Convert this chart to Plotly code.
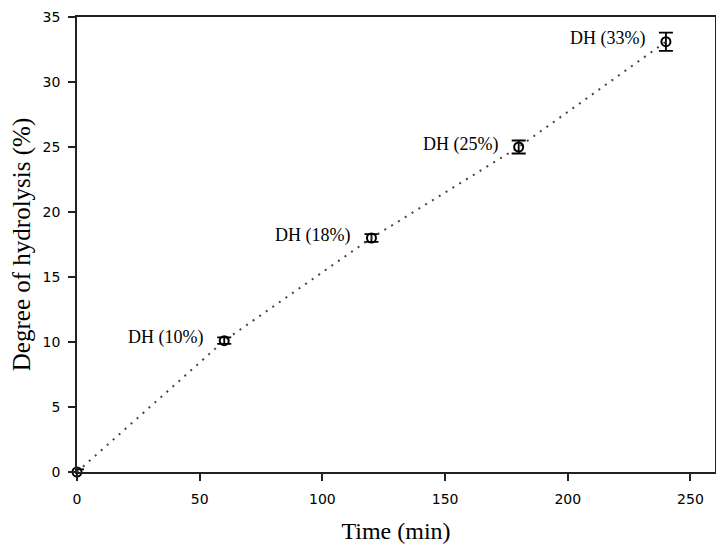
import plotly.graph_objects as go

time_min = [0, 60, 120, 180, 240]
dh_pct = [0, 10.1, 18.0, 25.0, 33.1]
dh_err = [0.2, 0.25, 0.3, 0.5, 0.7]
labels = ["", "DH (10%)", "DH (18%)", "DH (25%)", "DH (33%)"]
x_ticks = [0, 50, 100, 150, 200, 250]
y_ticks = [0, 5, 10, 15, 20, 25, 30, 35]

fig = go.Figure()
fig.add_trace(go.Scatter(
    x=time_min, y=dh_pct, mode="lines+markers",
    line=dict(color="#444444", width=2, dash="2px,6px"),
    marker=dict(symbol="circle-open", size=9, color="black", line=dict(width=2)),
    error_y=dict(type="data", array=dh_err, visible=True, color="black", thickness=1.8, width=7),
    cliponaxis=False, showlegend=False,
))

for xv, yv, t in zip(time_min, dh_pct, labels):
    if t:
        fig.add_annotation(x=xv, y=yv, text=t, showarrow=False, xanchor="right", yanchor="middle",
                           xshift=-19, yshift=3,
                           font=dict(family="Liberation Serif", size=18, color="black"))

axis_common = dict(showline=True, linecolor="#222222", linewidth=1.8, mirror=True,
                   ticks="outside", tickcolor="#222222", tickwidth=1.8, ticklen=7,
                   showgrid=False, zeroline=False, automargin=False,
                   ticklabeloverflow="allow",
                   tickfont=dict(family="DejaVu Sans", size=14, color="black"))

fig.update_xaxes(range=[0, 260], tickvals=x_ticks, ticklabelstandoff=6, **axis_common,
                 title=dict(text="Time (min)", font=dict(family="Liberation Serif", size=24, color="black"), standoff=16))
fig.update_yaxes(range=[0, 35], tickvals=y_ticks, ticklabelstandoff=5, **axis_common,
                 title=dict(text="Degree of hydrolysis (%)", font=dict(family="Liberation Serif", size=25, color="black"), standoff=8))

fig.update_layout(width=710, height=538, margin=dict(l=69, r=3, t=9, b=74),
                  plot_bgcolor="white", paper_bgcolor="white")
fig.write_html("out.html")
